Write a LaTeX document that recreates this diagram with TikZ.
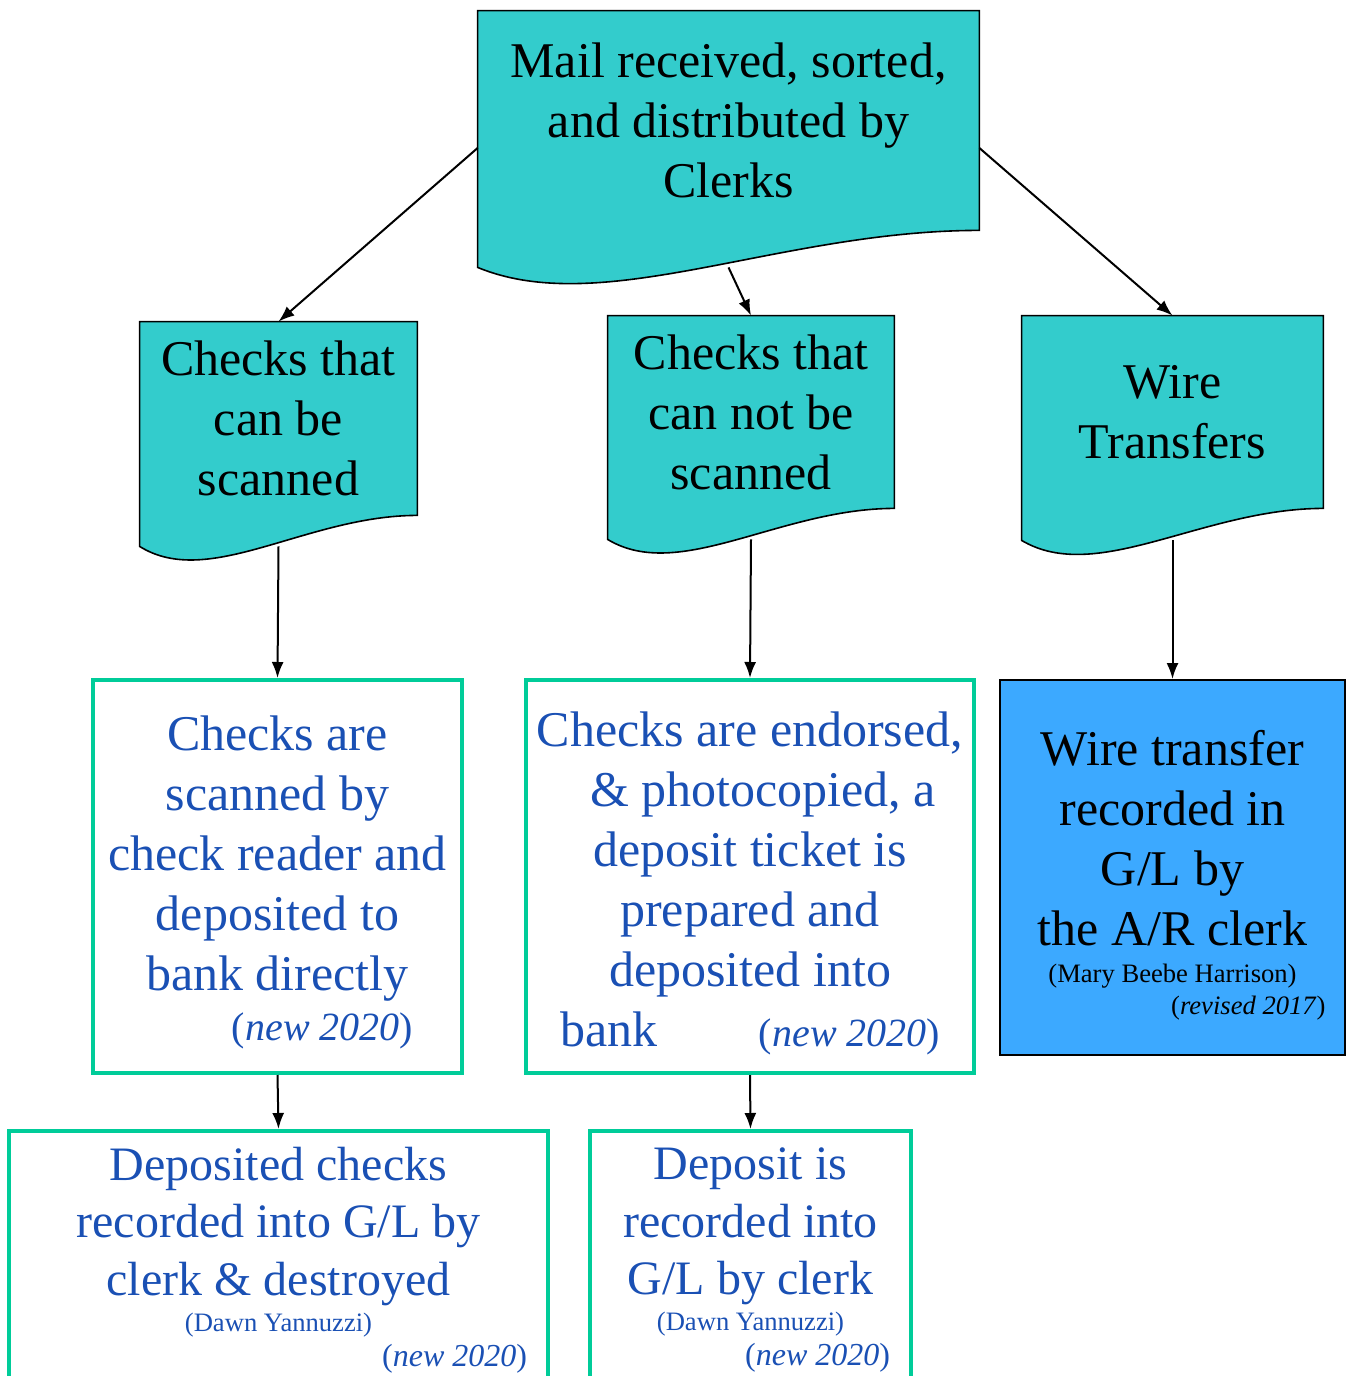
\documentclass[tikz,border=0pt]{standalone}
\usepackage{fontspec}
\setmainfont{Liberation Serif}
\usetikzlibrary{arrows.meta,calc,backgrounds}
\definecolor{docteal}{HTML}{33CCCC}
\definecolor{boxgreen}{HTML}{00CC99}
\definecolor{textblue}{HTML}{1A50B4}
\definecolor{wireblue}{HTML}{3CA9FF}
\tikzset{
	docnode/.style={inner sep=0pt,align=flush center,font=\fontsize{25}{30}\selectfont},
	docline/.style={fill=docteal,draw=black,line width=0.8pt},
	greenbox/.style={draw=boxgreen,line width=2pt,inner sep=0pt,align=flush center,text=textblue,font=\fontsize{25}{30}\selectfont},
	wirebox/.style={draw=black,fill=wireblue,line width=1pt,inner sep=0pt,align=flush center,font=\fontsize{25}{30}\selectfont},
	arr/.style={-{Latex[length=8pt,width=6pt]},line width=1pt}
}
\newcommand{\smallnote}{\fontsize{13.3}{16}\selectfont}
% document shape behind a node: #1 node, #2 drop of the left corner
\newcommand{\docshape}[2]{%
	\begin{pgfonlayer}{background}
		\filldraw[docline] (#1.north west) -- (#1.north east) -- (#1.south east)
		.. controls ($(#1.south west)!0.6!(#1.south east)$) and ($(#1.south west)!0.25!(#1.south east)+(0,2.4*#2)$) .. ($(#1.south west)+(0,#2)$) -- cycle;
	\end{pgfonlayer}}
\begin{document}
\begin{tikzpicture}[x=0.5pt,y=-0.5pt]
	\useasboundingbox (0,0) rectangle (1347,1376);
	% documents
	\node[docnode,minimum width=250.5pt,minimum height=109.5pt,text width=240pt] (mail) at (728.5,120.5) {Mail received, sorted,\\and distributed by\\Clerks};
	\node[docnode,minimum width=138.5pt,minimum height=96.5pt,text width=130pt] (scan) at (278.5,418.5) {Checks that\\can be\\scanned};
	\node[docnode,minimum width=143pt,minimum height=96pt,text width=135pt] (noscan) at (751,412) {Checks that\\can not be\\scanned};
	\node[docnode,minimum width=150.5pt,minimum height=96pt,text width=140pt] (wire) at (1172.5,412) {Wire\\Transfers};
	\docshape{mail}{37}
	\docshape{scan}{31}
	\docshape{noscan}{31}
	\docshape{wire}{32}
	% process boxes
	\node[greenbox,minimum width=184.5pt,minimum height=196.5pt,text width=178pt] (scanned) at (277.5,876.5)
	{\rule{0pt}{23.5pt}Checks are\\scanned by\\check reader and\\deposited to\\bank directly\\[-5pt]
		\makebox[178pt][r]{\fontsize{20}{24}\selectfont(\textit{new 2020})\hspace{21.25pt}}};
	\node[greenbox,minimum width=224pt,minimum height=196.5pt,text width=220pt] (endorsed) at (750,876.5)
	{\rule{0pt}{24.5pt}Checks are endorsed,\\\hspace*{13pt}\& photocopied, a\\deposit ticket is\\prepared and\\deposited into\\
		\makebox[220pt]{\hspace{15pt}bank\hfill{\fontsize{20}{24}\selectfont(\textit{new 2020})}\hspace{15pt}}};
	\node[wirebox,minimum width=172.5pt,minimum height=187.5pt,text width=160pt] (wirerec) at (1172.5,867.5)
	{\rule{0pt}{25.5pt}Wire transfer\\recorded in\\G/L by\\the A/R clerk\\[-11.5pt]{\smallnote(Mary Beebe Harrison)}\\[-14pt]
		\makebox[160pt][r]{\smallnote(\textit{revised 2017})\hspace{3.5pt}}};
	\node[greenbox,font=\fontsize{24}{28.75}\selectfont,minimum width=269.5pt,minimum height=129pt,text width=260pt] (depchk) at (278.5,1260)
	{Deposited checks\\recorded into G/L by\\clerk \& destroyed\\[-10.75pt]{\smallnote(Dawn Yannuzzi)}\\[-11.25pt]
		\makebox[260pt][r]{\fontsize{16}{19}\selectfont(\textit{new 2020})\hspace{5.75pt}}};
	\node[greenbox,font=\fontsize{24}{28.75}\selectfont,minimum width=160.5pt,minimum height=129pt,text width=150pt] (depbank) at (750.5,1260)
	{Deposit is\\recorded into\\G/L by clerk\\[-10.75pt]{\smallnote(Dawn Yannuzzi)}\\[-11.25pt]
		\makebox[150pt][r]{\fontsize{16}{19}\selectfont(\textit{new 2020})\hspace{5.25pt}}};
	% arrows
	\draw[arr] ([yshift=-13.75pt]mail.west) -- (scan.north);
	\draw[arr] ($(mail.south)+(0,37)$) -- (noscan.north);
	\draw[arr] ([yshift=-13.75pt]mail.east) -- (wire.north);
	\draw[arr] ($(scan.south)+(0,31)$) -- (scanned.north);
	\draw[arr] ($(noscan.south)+(0,31)$) -- (endorsed.north);
	\draw[arr] ($(wire.south)+(0,32)$) -- (wirerec.north);
	\draw[arr] (scanned.south) -- (depchk.north);
	\draw[arr] (endorsed.south) -- (depbank.north);
\end{tikzpicture}
\end{document}
